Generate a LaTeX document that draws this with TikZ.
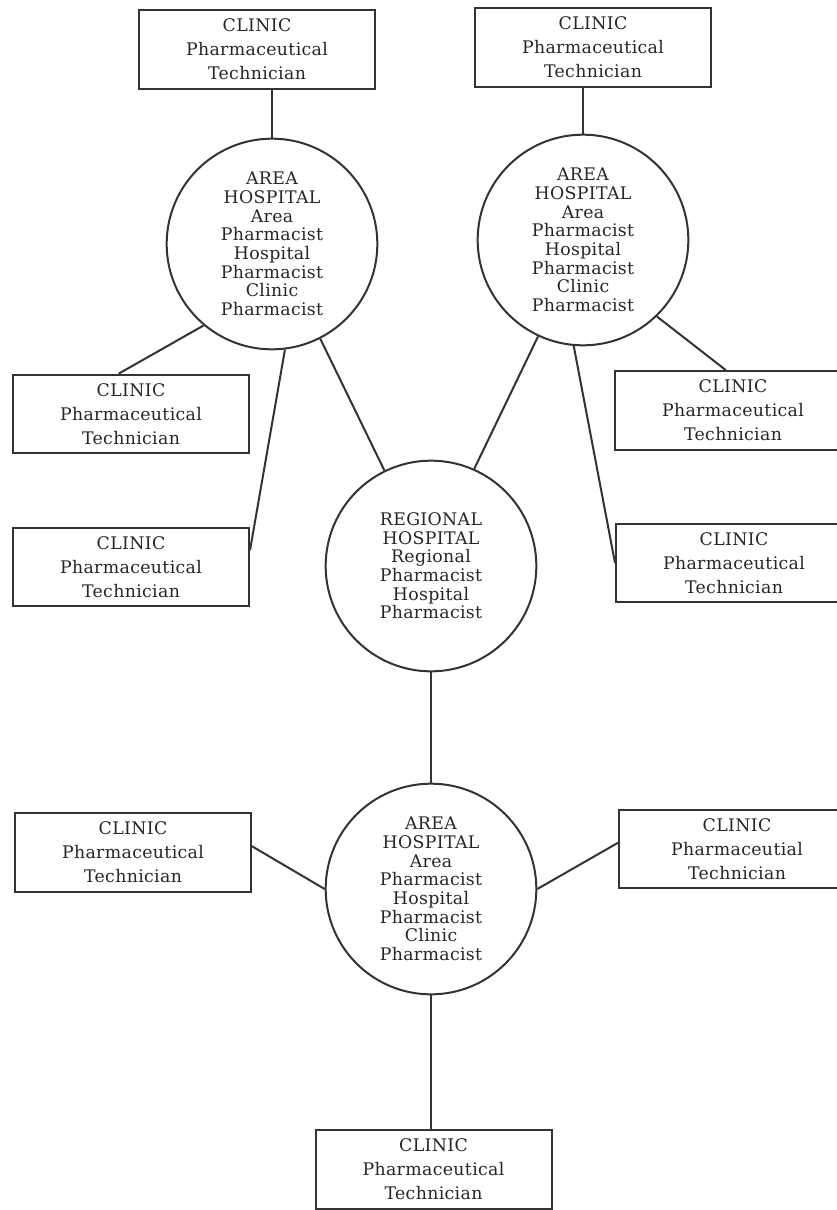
\documentclass[tikz,border=0pt]{standalone}
\usepackage{fontspec}
\setmainfont{DejaVu Serif}[LetterSpace=2]

\tikzset{
  clinic/.style={
    draw=black!80, text=black!85, rectangle,
    line width=1.5pt,
    minimum width=177pt, minimum height=59pt,
    inner sep=0pt, align=center,
    font=\fontsize{13}{18}\selectfont
  },
  hospital/.style={
    draw=black!80, text=black!85, circle,
    line width=1.5pt,
    minimum size=158pt,
    inner sep=0pt, align=center,
    font=\fontsize{13}{14}\selectfont
  },
  link/.style={draw=black!80, line width=1.5pt}
}

\begin{document}
\begin{tikzpicture}[x=0.75pt, y=-0.75pt]
    \useasboundingbox (0,0) rectangle (837,1210);

    % hospitals
    \node[hospital] (areaTL) at (272,244)
      {AREA\\HOSPITAL\\Area\\Pharmacist\\Hospital\\Pharmacist\\Clinic\\Pharmacist};
    \node[hospital] (areaTR) at (583,240)
      {AREA\\HOSPITAL\\Area\\Pharmacist\\Hospital\\Pharmacist\\Clinic\\Pharmacist};
    \node[hospital] (regional) at (431,566)
      {REGIONAL\\HOSPITAL\\Regional\\Pharmacist\\Hospital\\Pharmacist};
    \node[hospital] (areaB) at (431,889)
      {AREA\\HOSPITAL\\Area\\Pharmacist\\Hospital\\Pharmacist\\Clinic\\Pharmacist};

    % clinics
    \node[clinic] (clinicTL) at (257,49.5) {CLINIC\\Pharmaceutical\\Technician};
    \node[clinic] (clinicTR) at (593,47.5) {CLINIC\\Pharmaceutical\\Technician};
    \node[clinic] (clinicL1) at (131,414) {CLINIC\\Pharmaceutical\\Technician};
    \node[clinic] (clinicL2) at (131,567) {CLINIC\\Pharmaceutical\\Technician};
    \node[clinic] (clinicR1) at (733,410.5) {CLINIC\\Pharmaceutical\\Technician};
    \node[clinic] (clinicR2) at (734,563) {CLINIC\\Pharmaceutical\\Technician};
    \node[clinic] (clinicBL) at (133,852.5) {CLINIC\\Pharmaceutical\\Technician};
    \node[clinic] (clinicBR) at (737,849) {CLINIC\\Pharmaceutial\\Technician};
    \node[clinic] (clinicB) at (433.5,1169.5) {CLINIC\\Pharmaceutical\\Technician};

    % links
    \draw[link] (areaTL.north) -- (areaTL.north |- clinicTL.south);
    \draw[link] (areaTR.north) -- (areaTR.north |- clinicTR.south);
    \draw[link] (areaTL.230) -- (clinicL1.107);
    \draw[link] (areaTL.277) -- (clinicL2.8);
    \draw[link] (areaTL.297) -- (regional.116);
    \draw[link] (areaTR.245) -- (regional.66);
    \draw[link] (areaTR.314) -- (clinicR1.100);
    \draw[link] (areaTR.265) -- (clinicR2.west);
    \draw[link] (regional.south) -- (areaB.north);
    \draw[link] (areaB.west) -- (clinicBL.3);
    \draw[link] (areaB.east) -- (clinicBR.177);
    \draw[link] (areaB.south) -- (areaB.south |- clinicB.north);
\end{tikzpicture}
\end{document}
